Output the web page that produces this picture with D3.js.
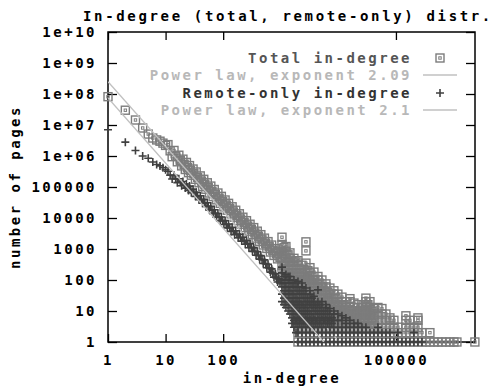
<!DOCTYPE html>
<html>
<head>
<meta charset="utf-8">
<script src="https://cdn.jsdelivr.net/npm/d3@7"></script>
<style>
  body { margin: 0; background: #fff; }
  svg text { font-family: "DejaVu Sans Mono", monospace; font-size: 14px; letter-spacing: 2.5px; font-weight: bold; }
</style>
</head>
<body>
<svg id="chart" width="493" height="386"></svg>
<script>
// in-degree 1..10
const headDeg = [1, 2, 3, 4, 5, 6, 7, 8, 9, 10];
const totalHeadCnt = [8.2e7, 3.0e7, 1.45e7, 8e6, 5.1e6, 3.8e6, 3.3e6, 3.0e6, 2.6e6, 2.2e6];
const remoteHeadCnt = [7e6, 2.8e6, 1.5e6, 1.0e6, 8.5e5, 6.4e5, 5.3e5, 4.8e5, 4.2e5, 3.6e5];

const bandDeg = [11, 12, 13, 14, 15, 16, 17, 18, 19, 20, 21, 22, 23, 24, 25, 26, 27, 28, 30, 31,
  33, 34, 36, 38, 40, 42, 44, 46, 48, 50, 53, 55, 58, 61, 64, 67, 70, 73, 77, 81,
  85, 89, 93, 98, 103, 108, 113, 118, 124, 130, 137, 143, 150, 158, 165, 173, 182, 191, 200, 210,
  220, 231, 242, 254, 267, 280, 293, 308, 323, 339, 355, 373, 391, 410, 430, 451, 473, 496, 521, 546,
  573, 601, 630, 661, 694, 728, 763, 801, 840, 881, 924, 970];
const totalBandCnt = [2.33e6, 1.47e6, 9.5e5, 1.51e6, 9.9e5, 6.5e5, 1.06e6, 7.1e5, 4.8e5, 7.9e5,
  5.4e5, 3.67e5, 6.2e5, 4.2e5, 2.9e5, 4.9e5, 3.4e5, 2.4e5, 3.8e5, 2.7e5,
  1.77e5, 3.05e5, 2.04e5, 1.37e5, 2.28e5, 1.55e5, 1.05e5, 1.77e5, 1.22e5, 8.4e4,
  1.37e5, 9.5e4, 6.4e4, 1.07e5, 7.2e4, 4.9e4, 8.3e4, 5.7e4, 3.85e4, 6.4e4,
  4.35e4, 2.97e4, 4.99e4, 3.36e4, 2.28e4, 3.81e4, 2.6e4, 1.78e4, 2.97e4, 2.02e4,
  1.36e4, 2.3e4, 1.56e4, 1.06e4, 1.78e4, 1.21e4, 8.2e3, 1.37e4, 9.3e3, 6.3e3,
  1.06e4, 7.2e3, 4.9e3, 8.2e3, 5.5e3, 3.77e3, 6.3e3, 4.3e3, 2.9e3, 4.9e3,
  3.3e3, 2.25e3, 3.76e3, 2.56e3, 1.74e3, 2.9e3, 1.98e3, 1.35e3, 2.24e3, 1.53e3,
  1.04e3, 1.73e3, 1.18e3, 800, 1.34e3, 910, 620, 1.03e3, 700, 480, 800, 540];
const remoteBandCnt = [3.23e5, 2.42e5, 1.82e5, 2.38e5, 1.81e5, 1.38e5, 1.85e5, 1.43e5, 1.1e5, 1.5e5,
  1.17e5, 9.2e4, 1.25e5, 9.9e4, 7.7e4, 1.07e5, 8.4e4, 6.5e4, 8.4e4, 6.7e4,
  5.0e4, 6.8e4, 5.2e4, 3.9e4, 5.2e4, 3.95e4, 3.0e4, 4.0e4, 3.1e4, 2.37e4,
  3.1e4, 2.4e4, 1.8e4, 2.38e4, 1.81e4, 1.38e4, 1.84e4, 1.42e4, 1.06e4, 1.41e4,
  1.07e4, 8.1e3, 1.08e4, 8.2e3, 6.2e3, 8.2e3, 6.3e3, 4.8e3, 6.4e3, 4.8e3,
  3.7e3, 5.0e3, 3.8e3, 2.9e3, 3.9e3, 3.0e3, 2.3e3, 3.0e3, 2.35e3, 1.8e3,
  2.4e3, 1.85e3, 1.42e3, 1.9e3, 1.45e3, 1.1e3, 1.49e3, 1.13e3, 840, 1.11e3,
  840, 630, 830, 620, 470, 610, 455, 340, 445, 333,
  248, 323, 244, 180, 228, 167, 124, 158, 116, 86, 109, 81];

// scattered tail: [in-degree, counts seen at that degree]
const totalTail = [
  [1050, [100, 170, 300, 500, 850, 1400, 2400]],
  [1140, [130, 220, 400, 700, 1100]],
  [1230, [60, 100, 170, 300, 500, 850, 1200]],
  [1340, [45, 80, 130, 220, 380, 650]],
  [1445, [35, 60, 100, 170, 300, 500, 750]],
  [1570, [25, 45, 80, 130, 220, 400]],
  [1694, [20, 35, 60, 100, 170, 300, 500]],
  [1840, [4, 6, 10, 16, 26, 45, 80, 130, 220, 380]],
  [1990, [1, 2, 3, 5, 8, 13, 20, 35, 60, 100, 170, 300, 420]],
  [2150, [4, 6, 10, 16, 26, 45, 80, 130, 220]],
  [2334, [1, 2, 3, 5, 8, 13, 20, 35, 60, 100, 170, 300]],
  [2530, [4, 6, 10, 16, 26, 45, 80, 130, 220]],
  [2738, [1, 2, 3, 5, 8, 13, 20, 35, 60, 100, 170, 350, 870, 1700]],
  [2960, [4, 6, 10, 16, 26, 45, 80, 130, 200]],
  [3212, [1, 2, 3, 5, 8, 13, 20, 35, 60, 100, 170, 250]],
  [3480, [4, 6, 10, 16, 26, 45, 80, 130]],
  [3768, [1, 2, 3, 5, 8, 13, 20, 35, 60, 100, 180]],
  [4080, [4, 6, 10, 16, 26, 45, 80]],
  [4420, [1, 2, 3, 5, 8, 13, 20, 35, 60, 100, 130]],
  [4790, [4, 6, 10, 16, 26, 45, 75]],
  [5186, [1, 2, 3, 5, 8, 13, 20, 35, 60, 100]],
  [5620, [4, 6, 10, 16, 26, 45]],
  [6083, [1, 2, 3, 5, 8, 13, 20, 35, 60, 75]],
  [6590, [4, 6, 10, 16, 26, 40]],
  [7136, [1, 2, 3, 5, 8, 13, 20, 35, 55]],
  [7730, [4, 6, 10, 16, 26]],
  [8371, [1, 2, 3, 5, 8, 13, 20, 35, 45]],
  [9070, [4, 6, 10, 16, 26]],
  [9820, [1, 2, 3, 5, 8, 13, 20, 35]],
  [10650, [4, 6, 10, 16]],
  [11550, [1, 2, 3, 5, 8, 13, 20, 28]],
  [12500, [4, 6, 10, 16]],
  [13550, [1, 2, 3, 5, 8, 13, 20]],
  [14700, [4, 6, 10]],
  [15890, [1, 2, 3, 5, 8, 13, 20, 25]],
  [17200, [4, 6, 10]],
  [18650, [1, 2, 3, 5, 8, 13, 18]],
  [20200, [4, 6, 10]],
  [21870, [1, 2, 3, 5, 8, 13, 16]],
  [23700, [4, 6, 10]],
  [25700, [1, 2, 3, 5, 8, 13]],
  [27800, [4, 6, 10, 16]],
  [30100, [1, 2, 3, 5, 8, 13, 20, 26]],
  [32600, [4, 6, 10, 16]],
  [35400, [1, 2, 3, 5, 8, 13, 20]],
  [38300, [4, 6, 10]],
  [41500, [1, 2, 3, 5, 8, 12]],
  [48700, [1, 2, 3, 5, 8, 13]],
  [57100, [1, 2, 3, 5, 8, 12]],
  [67000, [1, 2, 3, 5, 8]],
  [78600, [1, 2, 3, 5, 6]],
  [92200, [1, 2, 3, 5]],
  [108000, [1, 2, 3]],
  [127000, [1, 2]],
  [149000, [1, 2, 3, 5, 7]],
  [175000, [1, 2, 3, 5]],
  [205000, [1, 2, 3]],
  [241000, [1, 2, 3, 5, 6]],
  [283000, [1, 2]],
  [332000, [1]], [389000, [1, 2]], [457000, [1]], [536000, [1]], [629000, [1]],
  [738000, [1]], [866000, [1]], [1016000, [1]], [1146000, [1]], [2350000, [1]]
];
const remoteTail = [
  [1050, [20, 35, 60, 100, 170, 260]],
  [1140, [16, 26, 45, 80, 130]],
  [1230, [13, 20, 35, 60, 100, 150]],
  [1340, [10, 16, 26, 45, 80, 130]],
  [1445, [8, 13, 20, 35, 60, 100, 130]],
  [1570, [4, 6, 10, 16, 26, 45, 80]],
  [1694, [3, 5, 8, 13, 20, 35, 60, 100]],
  [1840, [2, 4, 6, 10, 16, 26, 45, 80]],
  [1990, [1, 2, 3, 5, 8, 13, 20, 35, 60, 90]],
  [2150, [4, 6, 10, 16, 26, 45]],
  [2334, [1, 2, 3, 5, 8, 13, 20, 35, 60, 80]],
  [2530, [4, 6, 10, 16, 26, 45]],
  [2738, [1, 2, 3, 5, 8, 13, 20, 35, 55]],
  [2960, [4, 6, 10, 16, 26]],
  [3212, [1, 2, 3, 5, 8, 13, 20, 35, 45]],
  [3480, [4, 6, 10, 16, 26]],
  [3768, [1, 2, 3, 5, 8, 13, 20, 30]],
  [4080, [4, 6, 10, 16]],
  [4420, [1, 2, 3, 5, 8, 13, 20, 48]],
  [4790, [4, 6, 10, 16]],
  [5186, [1, 2, 3, 5, 8, 13, 20]],
  [5620, [4, 6, 10]],
  [6083, [1, 2, 3, 5, 8, 13, 16]],
  [6590, [4, 6, 10]],
  [7136, [1, 2, 3, 5, 8, 12]],
  [7730, [4, 6]],
  [8371, [1, 2, 3, 5, 8, 10]],
  [9820, [1, 2, 3, 5, 8]],
  [11550, [1, 2, 3, 5, 7]],
  [13550, [1, 2, 3, 4, 6]],
  [15890, [1, 2, 3, 5]],
  [18650, [1, 2, 3, 4]],
  [21870, [1, 2, 3, 4]],
  [25700, [1, 2, 3]],
  [30100, [1, 2, 3]],
  [35400, [1, 2]], [41500, [1, 2]], [48700, [1, 2, 3]], [57100, [1, 2]],
  [67000, [1, 2]], [78600, [1, 2]], [92200, [1]], [108000, [1, 2]],
  [127000, [1]], [149000, [1]], [175000, [1]], [205000, [1, 2]], [241000, [1]], [283000, [1]]
];

// power-law fits: count = scale * degree^-exponent
const fitExponents = [2.09, 2.1];
const fitScales = [2.5e8, 7.4e7];

const xTicks = [1, 10, 100, 100000];
const yTicks = [1, 10, 100, 1000, 10000, 100000, 1e6, 1e7, 1e8, 1e9, 1e10];
const yTickLabels = ['1', '10', '100', '1000', '10000', '100000', '1e+06', '1e+07', '1e+08', '1e+09', '1e+10'];
const legendLabels = ['Total in-degree', 'Power law, exponent 2.09', 'Remote-only in-degree', 'Power law, exponent 2.1'];

const margin = { top: 32, right: 18, bottom: 44, left: 108 };
const width = 493 - margin.left - margin.right;
const height = 386 - margin.top - margin.bottom;

function toPoints(head, bandCnt, tail) {
  const pts = headDeg.map((d, i) => ({ x: d, y: head[i] }));
  bandDeg.forEach((d, i) => pts.push({ x: d, y: bandCnt[i] }));
  tail.forEach(([d, counts]) => counts.forEach(c => pts.push({ x: d, y: c })));
  return pts;
}
const totalPts = toPoints(totalHeadCnt, totalBandCnt, totalTail);
const remotePts = toPoints(remoteHeadCnt, remoteBandCnt, remoteTail);

const svg = d3.select('#chart');
const g = svg.append('g').attr('transform', `translate(${margin.left},${margin.top})`);

const x = d3.scaleLog().domain([1, 2.36e6]).range([0, width]);
const y = d3.scaleLog().domain([1, 1e10]).range([height, 0]);

svg.append('defs').append('clipPath').attr('id', 'clip')
  .append('rect').attr('width', width).attr('height', height);

// title and axis labels
svg.append('text').attr('x', 288).attr('y', 21).attr('text-anchor', 'middle')
  .style('letter-spacing', '2.65px').attr('fill', '#000').text('In-degree (total, remote-only) distr.');
svg.append('text').attr('x', 292).attr('y', 383).attr('text-anchor', 'middle')
  .attr('fill', '#000').text('in-degree');
svg.append('text').attr('transform', 'translate(20,187) rotate(-90)').attr('text-anchor', 'middle')
  .attr('fill', '#000').text('number of pages');

// axes, ticks pointing inwards
const styleAxis = sel => {
  sel.select('.domain').remove();
  sel.selectAll('line').attr('stroke', '#000').attr('stroke-width', 1.3);
  sel.selectAll('text').attr('font-family', null).attr('font-size', null).attr('fill', '#000');
};
g.append('g')
  .call(d3.axisLeft(y).tickValues(yTicks).tickFormat((d, i) => yTickLabels[i]).tickSize(-9).tickPadding(11))
  .call(styleAxis);
g.append('g').attr('transform', `translate(${width},0)`)
  .call(d3.axisRight(y).tickValues(yTicks).tickFormat('').tickSize(-9))
  .call(styleAxis);
g.append('g').attr('transform', `translate(0,${height})`)
  .call(d3.axisBottom(x).tickValues(xTicks).tickFormat(d => String(d)).tickSize(-8).tickPadding(13))
  .call(styleAxis);
g.append('g')
  .call(d3.axisTop(x).tickValues(xTicks).tickFormat('').tickSize(-8))
  .call(styleAxis);

g.append('rect').attr('width', width).attr('height', height)
  .attr('fill', 'none').attr('stroke', '#000').attr('stroke-width', 1.5);

const squareColor = '#7c7c7c';
const plusColor = '#404040';
const fitColor = '#c0c0c0';

function squareMark(sel) {
  sel.append('rect').attr('x', -4).attr('y', -4).attr('width', 8).attr('height', 8)
    .attr('fill', 'none').attr('stroke', squareColor).attr('stroke-width', 1.4);
  sel.append('rect').attr('x', -1.2).attr('y', -1.2).attr('width', 2.4).attr('height', 2.4)
    .attr('fill', 'none').attr('stroke', squareColor).attr('stroke-width', 1);
}
function drawSquares(sel, data) {
  sel.selectAll(null).data(data).enter().append('g')
    .attr('transform', d => `translate(${x(d.x)},${y(d.y)})`)
    .call(squareMark);
}
function drawPlus(sel, data) {
  sel.selectAll(null).data(data).enter().append('path')
    .attr('d', 'M-4,0H4M0,-4V4')
    .attr('transform', d => `translate(${x(d.x)},${y(d.y)})`)
    .attr('stroke', plusColor).attr('stroke-width', 1.6).attr('fill', 'none');
}
function drawFit(k) {
  const line = d3.line().x(d => x(d)).y(d => y(fitScales[k] * Math.pow(d, -fitExponents[k])));
  g.append('path').datum(x.domain()).attr('d', line)
    .attr('clip-path', 'url(#clip)')
    .attr('fill', 'none').attr('stroke', fitColor).attr('stroke-width', 1.3);
}

drawSquares(g.append('g'), totalPts);
drawFit(0);
drawPlus(g.append('g'), remotePts);
drawFit(1);

// legend
const legend = svg.append('g');
const rowY = [58, 75, 93, 110];
const textColors = ['#555', '#b8b8b8', '#333', '#b8b8b8'];
legendLabels.forEach((label, i) => {
  legend.append('text').attr('x', 412).attr('y', rowY[i]).attr('dy', '0.35em')
    .attr('text-anchor', 'end').attr('fill', textColors[i])
    .attr('font-weight', i % 2 ? 'normal' : 'bold').text(label);
});
legend.append('g').attr('transform', `translate(440,${rowY[0]})`).call(squareMark);
legend.append('path').attr('d', `M423,${rowY[1]}H457`).attr('stroke', fitColor).attr('stroke-width', 1.3);
legend.append('path').attr('d', `M436,${rowY[2]}H444M440,${rowY[2] - 4}V${rowY[2] + 4}`)
  .attr('stroke', plusColor).attr('stroke-width', 1.6);
legend.append('path').attr('d', `M423,${rowY[3]}H457`).attr('stroke', fitColor).attr('stroke-width', 1.3);
</script>
</body>
</html>
